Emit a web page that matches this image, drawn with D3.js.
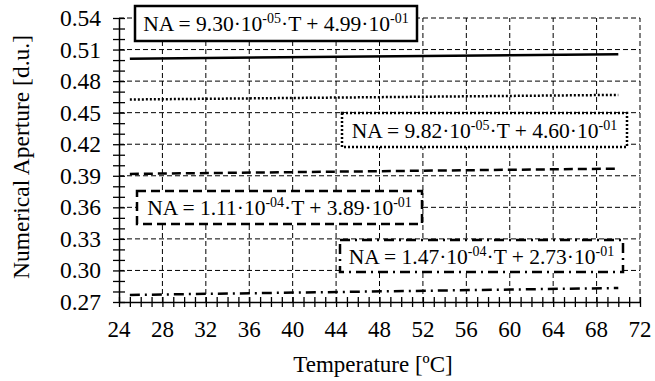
<!DOCTYPE html>
<html>
<head>
<meta charset="utf-8">
<script src="https://cdn.jsdelivr.net/npm/d3@7"></script>
<style>
  html, body { margin: 0; padding: 0; background: #fff; }
  svg { display: block; font-family: "Liberation Serif", "Times New Roman", serif; }
</style>
</head>
<body>
<div id="chart"></div>
<script>
// --- data ---
const tempRange = [25, 70];                 // fitted line span, ºC
const naSolid   = [0.5013, 0.5055];
const naDotted  = [0.4625, 0.4669];
const naDashed  = [0.3918, 0.3968];
const naDashDot = [0.2767, 0.2833];
const fitSlopes = ["9.30", "9.82", "1.11", "1.47"];
const slopeExps = ["-05", "-05", "-04", "-04"];
const fitIntercepts = ["4.99", "4.60", "3.89", "2.73"];
const xTicks = [24, 28, 32, 36, 40, 44, 48, 52, 56, 60, 64, 68, 72];
const yTicks = [0.27, 0.30, 0.33, 0.36, 0.39, 0.42, 0.45, 0.48, 0.51, 0.54];

const W = 655, H = 381;
const svg = d3.select("#chart").append("svg").attr("width", W).attr("height", H);

const x = d3.scaleLinear().domain([24, 72]).range([119, 640]);
const y = d3.scaleLinear().domain([0.27, 0.54]).range([302, 18]);

// grid (dashed)
const grid = svg.append("g").attr("stroke", "#000").attr("stroke-width", 1)
  .attr("stroke-dasharray", "5,3");
grid.selectAll("line.v").data(xTicks.slice(1)).join("line")
  .attr("x1", d => x(d)).attr("x2", d => x(d))
  .attr("y1", y(0.27)).attr("y2", y(0.54));
grid.selectAll("line.h").data(yTicks.slice(1)).join("line")
  .attr("y1", d => y(d)).attr("y2", d => y(d))
  .attr("x1", x(24)).attr("x2", x(72));

// series
const series = [
  { v: naSolid,   dash: null },
  { v: naDotted,  dash: "2,2" },
  { v: naDashed,  dash: "9,5" },
  { v: naDashDot, dash: "10,5,2,5" }
];
const line = d3.line().x(d => x(d[0])).y(d => y(d[1]));
svg.append("g").selectAll("path").data(series).join("path")
  .attr("d", s => line(tempRange.map((t, i) => [t, s.v[i]])))
  .attr("fill", "none").attr("stroke", "#000").attr("stroke-width", 2.5)
  .attr("stroke-dasharray", s => s.dash);

// axes with ticks crossing the line (minor every unit)
const xMinor = d3.range(24, 72.01, 1);
const yMinor = d3.range(27, 54.01, 1).map(d => d / 100);

const xAxis = svg.append("g").attr("transform", `translate(0,${y(0.27)})`)
  .call(d3.axisBottom(x).tickValues(xMinor).tickSize(5).tickSizeOuter(0).tickFormat(""));
xAxis.selectAll(".tick line").attr("y1", -5).attr("stroke-width", 1.3);
xAxis.select(".domain").attr("stroke-width", 1.5);
xAxis.selectAll(".tick text").remove();

const yAxis = svg.append("g").attr("transform", `translate(${x(24)},0)`)
  .call(d3.axisLeft(y).tickValues(yMinor).tickSize(6).tickSizeOuter(0).tickFormat(""));
yAxis.selectAll(".tick line").attr("x1", 6).attr("stroke-width", 1.3);
yAxis.select(".domain").attr("stroke-width", 1.5);
yAxis.selectAll(".tick text").remove();

// tick labels
svg.append("g").selectAll("text").data(xTicks).join("text")
  .attr("x", d => x(d)).attr("y", 337)
  .attr("text-anchor", "middle").attr("font-size", 23).text(d => d);
svg.append("g").selectAll("text").data(yTicks).join("text")
  .attr("x", 101).attr("y", d => y(d)).attr("dy", "0.34em")
  .attr("text-anchor", "end").attr("font-size", 23.5).text(d => d.toFixed(2));

// axis titles
svg.append("text").attr("x", 373).attr("y", 372).attr("text-anchor", "middle")
  .attr("font-size", 23).text("Temperature [ºC]");
svg.append("text").attr("transform", "translate(29,157) rotate(-90)")
  .attr("text-anchor", "middle").attr("font-size", 23.5).text("Numerical Aperture [d.u.]");

// legend boxes (equation labels)
const boxes = [
  { x0: 135, x1: 417, y0: 6,   y1: 41,  dash: null },
  { x0: 342, x1: 627, y0: 113, y1: 147, dash: "2,2" },
  { x0: 137, x1: 422, y0: 191, y1: 224, dash: "9,5" },
  { x0: 340, x1: 623, y0: 240, y1: 272, dash: "10,5,2,5" }
];
boxes.forEach((b, i) => {
  const g = svg.append("g");
  g.append("rect").attr("x", b.x0).attr("y", b.y0)
    .attr("width", b.x1 - b.x0).attr("height", b.y1 - b.y0)
    .attr("fill", "#fff").attr("stroke", "#000").attr("stroke-width", 2.5)
    .attr("stroke-dasharray", b.dash);
  const t = g.append("text").attr("x", (b.x0 + b.x1) / 2).attr("y", (b.y0 + b.y1) / 2)
    .attr("dy", "0.36em").attr("text-anchor", "middle").attr("font-size", 21.5);
  t.append("tspan").text(`NA = ${fitSlopes[i]}·10`);
  t.append("tspan").attr("font-size", 14).attr("dy", -8).text(slopeExps[i]);
  t.append("tspan").attr("dy", 8).text("·T + " + fitIntercepts[i] + "·10");
  t.append("tspan").attr("font-size", 14).attr("dy", -8).text("-01");
});
</script>
</body>
</html>
